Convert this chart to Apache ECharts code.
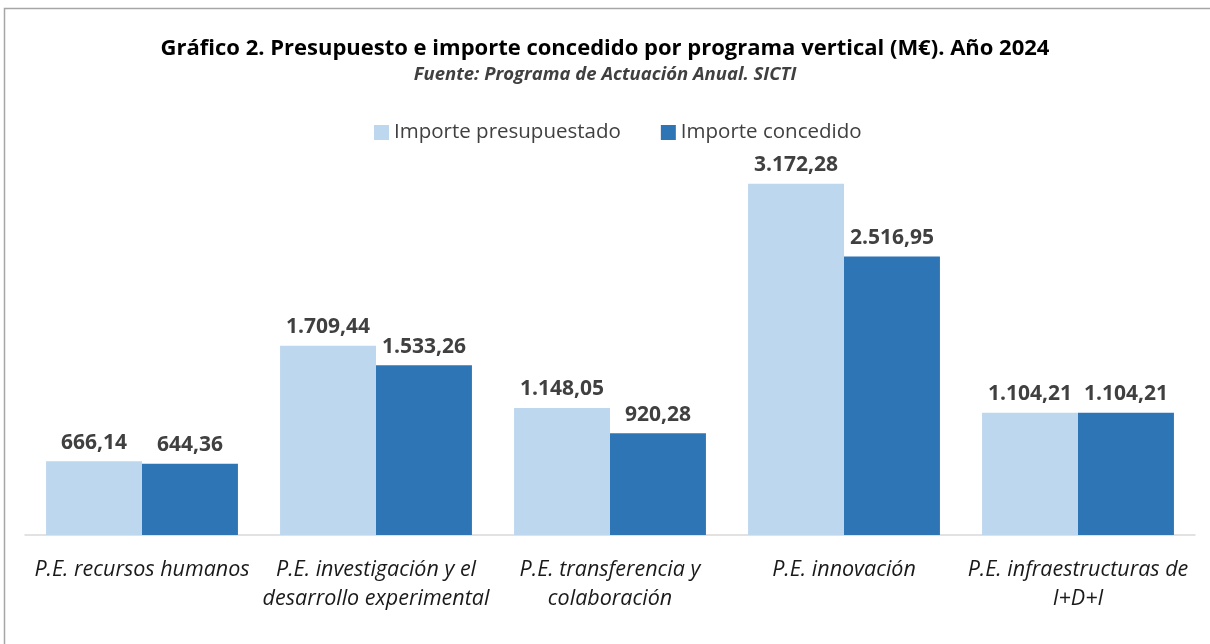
<!DOCTYPE html>
<html><head><meta charset="utf-8">
<script src="https://cdn.jsdelivr.net/npm/echarts@6/dist/echarts.min.js"></script>
<style>html,body{margin:0;padding:0;background:#fff}#c{width:1210px;height:644px}</style>
</head><body><div id="c"></div>
<script>
const categories = [
  "P.E. recursos humanos",
  "P.E. investigación y el\ndesarrollo experimental",
  "P.E. transferencia y\ncolaboración",
  "P.E. innovación",
  "P.E. infraestructuras de\nI+D+I"
];
const presupuestado = [666.14, 1709.44, 1148.05, 3172.28, 1104.21];
const concedido = [644.36, 1533.26, 920.28, 2516.95, 1104.21];
const seriesNames = ["Importe presupuestado", "Importe concedido"];

function fmt(v){
  const parts = v.toFixed(2).split('.');
  parts[0] = parts[0].replace(/\B(?=(\d{3})+(?!\d))/g, '.');
  return parts[0] + ',' + parts[1];
}
const FONT = 'Open Sans';
const chart = echarts.init(document.getElementById('c'));
const labelCfg = {show:true, position:'top', distance:8, formatter:p=>fmt(p.value),
  fontFamily:FONT, fontWeight:'bold', fontSize:21, color:'#404040'};
chart.setOption({
  animation:false,
  graphic:[{type:'rect', shape:{x:4.5, y:8.5, width:1300, height:700},
    style:{fill:'none', stroke:'#a6a6a6', lineWidth:1.5}, silent:true}],
  title:{text:'Gráfico 2. Presupuesto e importe concedido por programa vertical (M€). Año 2024',
    subtext:'Fuente: Programa de Actuación Anual. SICTI',
    left:'center', top:33, itemGap:5,
    textStyle:{fontFamily:FONT, fontWeight:'bold', fontSize:22, color:'#000'},
    subtextStyle:{fontFamily:FONT, fontWeight:'bold', fontStyle:'italic', fontSize:18.5, color:'#404040'}},
  legend:{data:seriesNames, top:117, left:369, itemWidth:15, itemHeight:15, itemGap:40,
    icon:'rect', textStyle:{fontFamily:FONT, fontSize:20.5, color:'#404040'}},
  grid:{left:25, right:15, top:147.6, bottom:109},
  xAxis:{type:'category', data:categories,
    axisLine:{lineStyle:{color:'#d9d9d9', width:1.5}}, axisTick:{show:false},
    axisLabel:{fontFamily:FONT, fontStyle:'italic', fontSize:21.5, color:'#1a1a1a',
      margin:20, lineHeight:29, interval:0}},
  yAxis:{type:'value', min:0, max:3500, show:false, splitLine:{show:false}},
  series:[
    {name:seriesNames[0], type:'bar', data:presupuestado, barGap:'0%', barCategoryGap:'18%',
      itemStyle:{color:'#bdd7ee'}, label:labelCfg},
    {name:seriesNames[1], type:'bar', data:concedido,
      itemStyle:{color:'#2e75b6'}, label:labelCfg}
  ]
});
</script></body></html>
